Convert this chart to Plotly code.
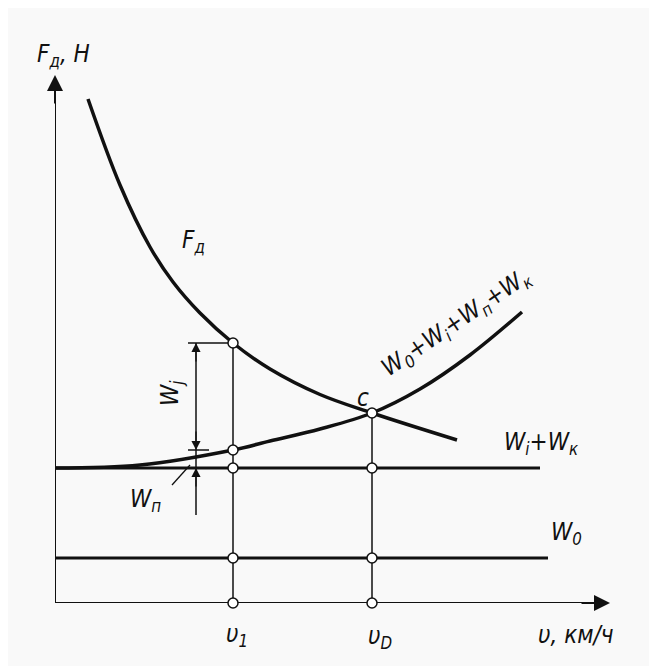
import plotly.graph_objects as go

# --- data (speed units on x, force units on y) ---
fd_v = [6.6, 13, 19, 23.6, 29, 35.6, 43, 53, 63.4, 80.4]
fd_f = [100.8, 83.6, 71.2, 64.2, 58.0, 52, 46.8, 41.7, 38, 32.6]
res_v = [0, 17, 35.6, 43, 53, 63.4, 73, 83, 93.4]
res_w = [27, 27.6, 30.6, 32.4, 34.8, 38, 42.8, 49.6, 58.2]
wik_level = 27.0
wik_end = 97.0
w0_level = 9.0
w0_end = 98.6
v1 = 35.6
vp = 63.4
f_at_v1 = 52.0
res_at_v1 = 30.6
f_at_vp = 38.0
x_max = 111.0
y_max = 105.6
dim_x = 28.2
dim_bottom = 17.6

FONT = "Liberation Sans Narrow, DejaVu Sans Condensed, Arial Narrow, sans-serif"
BLACK = "#111111"

fig = go.Figure()

fig.add_trace(go.Scatter(x=fd_v, y=fd_f, mode="lines",
                         line=dict(color=BLACK, width=3.5, shape="spline", smoothing=1.0)))
fig.add_trace(go.Scatter(x=res_v, y=res_w, mode="lines",
                         line=dict(color=BLACK, width=3.5, shape="spline", smoothing=1.0)))
fig.add_trace(go.Scatter(x=[0, wik_end], y=[wik_level, wik_level], mode="lines",
                         line=dict(color=BLACK, width=3)))
fig.add_trace(go.Scatter(x=[0, w0_end], y=[w0_level, w0_level], mode="lines",
                         line=dict(color=BLACK, width=3)))
fig.add_trace(go.Scatter(x=[v1, v1], y=[0, f_at_v1], mode="lines",
                         line=dict(color=BLACK, width=1.5)))
fig.add_trace(go.Scatter(x=[vp, vp], y=[0, f_at_vp], mode="lines",
                         line=dict(color=BLACK, width=1.5)))
fig.add_trace(go.Scatter(x=[dim_x - 1.6, v1], y=[f_at_v1, f_at_v1], mode="lines",
                         line=dict(color=BLACK, width=1.5)))
fig.add_trace(go.Scatter(x=[dim_x - 1.6, dim_x + 2.6], y=[res_at_v1, res_at_v1], mode="lines",
                         line=dict(color=BLACK, width=1.5)))
fig.add_trace(go.Scatter(x=[dim_x, dim_x], y=[dim_bottom, f_at_v1], mode="lines",
                         line=dict(color=BLACK, width=1.5)))
fig.add_trace(go.Scatter(x=[23.4, 27.0], y=[23.6, 27.6], mode="lines",
                         line=dict(color=BLACK, width=1.3)))
fig.add_trace(go.Scatter(x=[0, 0], y=[-0.4, y_max - 3], mode="lines",
                         line=dict(color=BLACK, width=2)))
fig.add_trace(go.Scatter(x=[0, x_max - 3], y=[0, 0], mode="lines",
                         line=dict(color=BLACK, width=2)))
fig.add_trace(go.Scatter(
    x=[v1, v1, v1, v1, v1, vp, vp, vp, vp],
    y=[f_at_v1, res_at_v1, wik_level, w0_level, 0, f_at_vp, wik_level, w0_level, 0],
    mode="markers",
    marker=dict(size=10, color="white", line=dict(color=BLACK, width=1.5))))

ann = []
def arrow(x, y, ax, ay, w=1.3, size=1.4):
    ann.append(dict(x=x, y=y, ax=ax, ay=ay, xref="x", yref="y", axref="x", ayref="y",
                    showarrow=True, arrowhead=2, arrowsize=size, arrowwidth=w,
                    arrowcolor=BLACK, text="", font=dict(size=10)))

arrow(0, y_max, 0, y_max - 6, w=2, size=1.6)
arrow(x_max, 0, x_max - 6, 0, w=2, size=1.6)
arrow(dim_x, f_at_v1, dim_x, f_at_v1 - 4)
arrow(dim_x, res_at_v1, dim_x, res_at_v1 + 4)
arrow(dim_x, wik_level, dim_x, wik_level - 4)

def label(x, y, text, size=24, angle=0):
    ann.append(dict(x=x, y=y / y_max, xref="x", yref="paper", text=text, showarrow=False,
                    xanchor="center", yanchor="middle",
                    textangle=angle, font=dict(family=FONT, size=size, color=BLACK)))

label(1.6, 109.5, "<i>F<sub>д</sub>, H</i>")
label(27.6, 72.2, "<i>F<sub>д</sub></i>")
label(61.6, 41.0, "<i>c</i>")
label(80.2, 56.0, "<i>W<sub>0</sub>+W<sub>i</sub>+W<sub>п</sub>+W<sub>к</sub></i>", angle=-34)
label(23.2, 42.0, "<i>W<sub>j</sub></i>", angle=-90)
label(18.0, 20.6, "<i>W<sub>п</sub></i>")
label(97.2, 32.0, "<i>W<sub>i</sub>+W<sub>к</sub></i>")
label(102.2, 14.0, "<i>W<sub>0</sub></i>")
label(36.4, -6.4, "<i>υ<sub>1</sub></i>")
label(65.0, -6.8, "<i>υ<sub>D</sub></i>")
label(104.2, -6.4, "<i>υ, км/ч</i>")

fig.update_layout(
    width=649, height=658,
    margin=dict(l=47, r=42, t=67, b=63),
    paper_bgcolor="#f9f9f9", plot_bgcolor="#f9f9f9",
    showlegend=False,
    xaxis=dict(range=[0, 112], visible=False, fixedrange=True),
    yaxis=dict(range=[0, 105.6], visible=False, fixedrange=True),
    annotations=ann,
)
for tr in fig.data:
    tr.cliponaxis = False
    tr.hoverinfo = "skip"

fig.write_html("out.html")
